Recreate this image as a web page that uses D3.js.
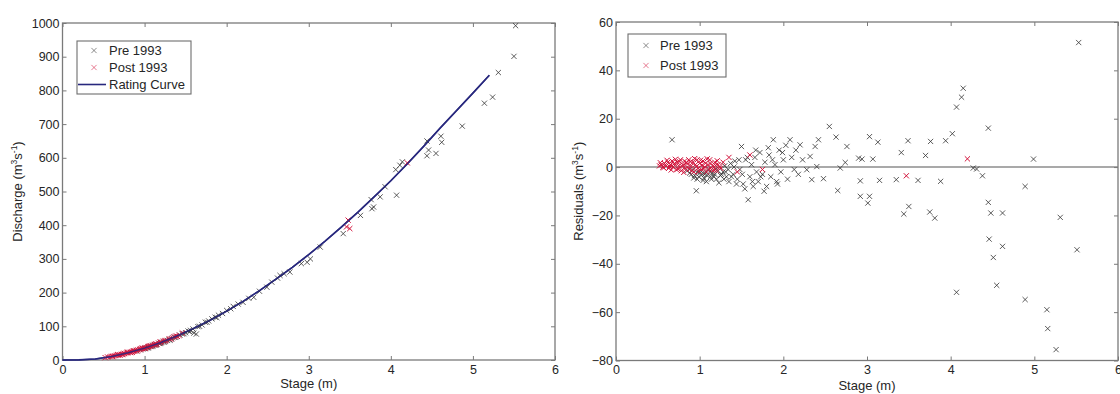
<!DOCTYPE html>
<html><head><meta charset="utf-8">
<script src="https://cdn.jsdelivr.net/npm/d3@7"></script>
<style>
html,body{margin:0;padding:0;background:#fff;}
svg{display:block;font-family:"Liberation Sans",Arial,sans-serif;}
</style></head>
<body><svg id="c" width="1120" height="394"></svg>
<script>
// ---------------- DATA ----------------
const xTicks = [0,1,2,3,4,5,6];
const qTicks = [0,100,200,300,400,500,600,700,800,900,1000];
const rTicks = [-80,-60,-40,-20,0,20,40,60];

// Rating curve (stage m, discharge m3/s)
const curveStage = [0,0.2,0.4,0.6,0.8,1.0,1.2,1.4,1.6,1.8,2.0,2.2,2.4,2.6,2.8,3.0,3.2,3.4,3.6,3.8,4.0,4.2,4.4,4.6,4.8,5.0,5.2];
const curveQ     = [0,0.5,3,10.5,21.5,35,52,72,94,118,145,174,206,240,275,313,353,395,439,485,532,582,634,688,740,792,845];

// Left panel: observed discharge
const preStage = [0.90,0.95,0.98,1.00,1.02,1.05,1.07,1.10,1.12,1.15,1.18,1.20,1.22,1.25,1.28,1.30,1.33,1.36,1.40,1.43,1.46,1.50,1.53,1.56,1.59,1.63,1.60,1.65,1.70,1.74,1.78,1.82,1.86,1.90,1.95,2.00,2.05,2.08,2.14,2.20,2.27,2.33,2.40,2.49,2.55,2.62,2.65,2.70,2.77,2.91,2.98,3.02,3.14,3.42,3.63,3.77,3.79,3.76,3.87,3.93,4.07,4.06,4.11,4.14,4.44,4.46,4.44,4.55,4.61,4.62,4.87,5.14,5.24,5.31,5.50,5.52,1.04,1.09,1.14,1.19,1.24,1.31,1.38,1.48,1.55,1.67,1.76,1.88];
const preQ     = [27,30,33,34,36,38,40,42,44,46,49,51,53,55,58,60,63,67,70,74,77,81,86,88,92,77,80,99,104,112,116,122,127,133,138,147,152,159,166,171,183,186,204,216,231,243,251,256,261,286,290,300,335,375,429,449,454,476,484,514,489,565,578,588,606,623,650,613,664,646,694,762,780,853,901,992,36,40,45,49,53,59,67,78,84,100,112,126];
const postStage = [0.52,0.55,0.58,0.60,0.62,0.64,0.66,0.68,0.70,0.72,0.74,0.76,0.78,0.80,0.82,0.84,0.86,0.88,0.90,0.92,0.94,0.96,0.98,1.00,1.02,1.04,1.06,1.08,1.10,1.12,1.14,1.17,1.20,1.23,1.26,1.30,1.34,1.38,1.42,1.46,0.70,0.75,0.85,0.95,1.05,1.15,3.46,3.48,3.50,4.20,0.61,0.67,0.73,0.79,0.83,0.87,0.91,0.97,1.01,1.07,1.13,1.19,1.25,1.32,1.36,1.40];
const postQ     = [7,9,10,11,12,13,14,15,16,17,18,19,21,22,23,24,26,27,29,30,31,33,35,36,37,39,41,42,44,46,48,50,53,56,58,63,66,71,73,80,14,20,23,33,40,46,395,415,390,585,10,16,16,23,22,27,27,35,34,42,45,53,57,62,69,70];

// Right panel: residuals
const preResStage = [0.67,0.85,0.88,0.90,0.92,0.94,0.96,0.97,0.99,1.01,1.03,1.05,1.07,1.09,1.11,1.13,1.15,1.18,1.20,1.22,1.25,1.28,1.30,1.32,1.35,1.37,1.40,1.42,1.45,1.48,1.50,1.52,1.55,1.58,1.60,1.62,1.64,1.66,1.68,1.70,1.72,1.75,1.78,1.80,1.83,1.85,1.88,1.90,1.92,1.95,1.97,2.00,2.03,2.05,2.08,2.10,2.13,2.15,2.18,2.20,2.23,2.28,2.32,2.34,2.38,2.40,2.42,2.48,2.55,2.63,2.65,2.68,2.74,2.76,2.90,2.92,2.92,2.94,3.01,3.03,3.03,3.07,3.13,3.15,3.35,3.41,3.44,3.49,3.50,3.61,3.70,3.75,3.76,3.81,3.88,3.94,4.02,4.07,4.07,4.13,4.15,4.27,4.31,4.38,4.45,4.45,4.46,4.48,4.51,4.55,4.62,4.62,4.89,4.89,4.99,5.15,5.16,5.26,5.31,5.51,5.53,
  0.93,0.97,1.00,1.04,1.06,1.08,1.12,1.14,1.17,1.19,1.23,1.26,1.29,1.31,1.34,1.38,1.41,1.44,1.47,1.51,1.54,1.57,1.63,1.67,1.73,1.77,1.82,1.87,1.93,1.99];
const preRes      = [11.3,-1.5,-2.5,-3,-1,-3.5,-9.8,-2,-4,-1.5,-3,-4.5,-2,-3.5,-1,-4,-2.5,-3,-5,-1.5,-3.5,-2,0.5,-4,-6,1.5,-3,2.5,-5,-1,8.5,-7,3,-13.5,-4,1,-8,4,-2,-6,6,-3,2,-8,5,-4,11.3,1,-6,7,-2,3,9,-5,11.3,4,-1,7,-3,9.2,3,-1.1,4.4,-5.2,8.5,0.2,11.3,-4.8,16.8,12.4,-9.7,-0.4,1.9,8.5,3.7,-5.7,-12.1,3.3,-14.9,12.6,-12.1,3.3,10.3,-5.5,-5.2,6.0,-19.4,10.9,-16.3,-5.5,4.8,-18.6,10.6,-21.1,-5.9,10.9,13.8,24.8,-51.8,28.9,32.6,-0.4,-0.8,-3.6,16.1,-14.6,-29.8,-19.0,-37.4,-48.9,-19.0,-32.8,-8.0,-54.8,3.3,-59.0,-66.8,-75.5,-20.8,-34.2,51.5,
  -4.5,-5,-2.5,-5.5,-3,-6,-2,-5,-4,-1,-6.5,-3,-5,-2,-1,-4,0,-7,3,-3,-9,4,-6,7,-4,-10,8,3,-7,6];
const postResStage = [0.52,0.54,0.56,0.58,0.60,0.62,0.63,0.65,0.67,0.68,0.70,0.72,0.73,0.75,0.77,0.78,0.80,0.82,0.83,0.85,0.87,0.88,0.90,0.92,0.93,0.95,0.97,0.98,1.00,1.02,1.04,1.06,1.08,1.10,1.12,1.14,1.16,1.18,1.20,1.22,1.25,1.28,1.35,1.45,1.60,1.75,3.47,4.20,
  0.53,0.57,0.61,0.64,0.66,0.69,0.71,0.74,0.76,0.79,0.81,0.84,0.86,0.89,0.91,0.94,0.96,0.99,1.01,1.03,1.05,1.07,1.09,1.11,1.13,1.17,1.19,1.21,1.24];
const postRes      = [0.5,1,0,1.5,0.5,2,-0.5,1,2.5,0,1.5,-1,2,0.5,3,-1.5,1,2.5,-0.5,1.5,3,-1,0.5,2,-2,1,3,-0.5,1.5,-1,2.5,0,-2,1,3,-1,0.5,2,-1.5,1,-0.5,2,4,-2,5,-1,-3.6,3.4,
  1.8,-0.3,2.8,0.2,-1.2,1.2,3.2,-0.8,2.2,0.3,-2.2,1.8,-0.2,2.2,-1.5,3.5,0.2,-1.8,2.8,0.8,-0.5,1.6,3.4,-0.9,1.3,-1.2,0.7,2.6,0.1];

const legendLeft = ["Pre 1993","Post 1993","Rating Curve"];
const legendRight = ["Pre 1993","Post 1993"];

// ---------------- STYLE ----------------
const AX = "#7a7a7a", TXT = "#262626";
const PRE = "#333333", POST = "#d3143c", CURVE = "#28287e";
const svg = d3.select("#c");
const xmark = "M-2.6,-2.6L2.6,2.6M-2.6,2.6L2.6,-2.6";

function sup(t, parts){
  parts.forEach(p=>{
    t.append("tspan").attr("dy", p.dy||0).attr("font-size", p.fs||13).text(p.t);
  });
}

function panel(o){
  const g = svg.append("g");
  const x = d3.scaleLinear().domain([0,6]).range(o.xr);
  const y = d3.scaleLinear().domain(o.yd).range(o.yr);
  const [x0,x1] = o.xr, [y0,y1] = o.yr;
  const fmt = d3.format("d");

  if (o.zero){
    g.append("line").attr("x1",x(0)).attr("x2",x(6)).attr("y1",y(0)).attr("y2",y(0))
      .attr("stroke","#8c8c8c").attr("stroke-width",1.6);
  }
  // axes
  const ax = [
    [d3.axisBottom(x).tickValues(xTicks).tickFormat(fmt), `translate(0,${y0})`, 5],
    [d3.axisTop(x).tickValues(xTicks).tickFormat(""), `translate(0,${y1})`, 5],
    [d3.axisLeft(y).tickValues(o.yt).tickFormat(fmt), `translate(${x0},0)`, 3],
    [d3.axisRight(y).tickValues(o.yt).tickFormat(""), `translate(${x1},0)`, 3]
  ];
  ax.forEach(([a,tr,pad])=>{
    const s = g.append("g").attr("transform",tr)
      .call(a.tickSizeInner(-4).tickSizeOuter(0).tickPadding(pad));
    s.select(".domain").remove();
    s.selectAll(".tick line").attr("stroke",AX).attr("stroke-width",1);
    s.selectAll(".tick text").attr("fill",TXT).attr("font-size",12.5)
      .attr("font-family","Liberation Sans, Arial, sans-serif");
  });
  g.append("rect").attr("x",x0).attr("y",y1).attr("width",x1-x0).attr("height",y0-y1)
    .attr("fill","none").attr("stroke",AX).attr("stroke-width",1.3);

  // data
  (o.lines||[]).forEach(L=>{
    g.append("path").datum(d3.range(L.xs.length))
      .attr("d", d3.line().x(i=>x(L.xs[i])).y(i=>y(L.ys[i])))
      .attr("fill","none").attr("stroke",L.c).attr("stroke-width",1.6);
  });
  o.sets.forEach(S=>{
    g.append("g").selectAll("path").data(d3.range(S.xs.length)).join("path")
      .attr("d",xmark).attr("transform",i=>`translate(${x(S.xs[i])},${y(S.ys[i])})`)
      .attr("fill","none").attr("stroke",S.c).attr("stroke-width",S.w||0.8);
  });
  (o.linesTop||[]).forEach(L=>{
    g.append("path").datum(d3.range(L.xs.length))
      .attr("d", d3.line().x(i=>x(L.xs[i])).y(i=>y(L.ys[i])))
      .attr("fill","none").attr("stroke",L.c).attr("stroke-width",1.4).attr("opacity",0.85);
  });

  // labels
  g.append("text").attr("x",(x0+x1)/2).attr("y",o.xlY).attr("text-anchor","middle")
    .attr("font-size",13).attr("fill",TXT).text("Stage (m)");
  const yl = g.append("text").attr("transform",`translate(${o.ylX},${(y0+y1)/2}) rotate(-90)`)
    .attr("text-anchor","middle").attr("font-size",13).attr("fill",TXT);
  sup(yl,[{t:o.ylab+" (m"},{t:"3",fs:8.5,dy:-5},{t:"s",dy:5},{t:"-1",fs:8.5,dy:-5},{t:")",dy:5}]);

  // legend
  const L = o.legend;
  const lg = g.append("g");
  lg.append("rect").attr("x",L.x).attr("y",L.y).attr("width",L.w).attr("height",L.h)
    .attr("fill","#fff").attr("stroke","#6e6e6e").attr("stroke-width",1.1);
  L.items.forEach((it,i)=>{
    const cy = L.y + L.first + i*L.step;
    if (it.type==="x"){
      lg.append("path").attr("d",xmark).attr("transform",`translate(${L.mx},${cy})`)
        .attr("fill","none").attr("stroke",it.c).attr("stroke-width",0.8).attr("opacity",0.7);
    } else {
      lg.append("line").attr("x1",L.x+1).attr("x2",L.tx-3).attr("y1",cy).attr("y2",cy)
        .attr("stroke",it.c).attr("stroke-width",1.6);
    }
    lg.append("text").attr("x",L.tx).attr("y",cy+4.5).attr("font-size",13).attr("fill",TXT).text(it.t);
  });
}

panel({
  xr:[62.5,555], yr:[360,23], yd:[0,1000], yt:qTicks,
  xlY:388, ylX:22, ylab:"Discharge",
  lines:[{xs:curveStage, ys:curveQ, c:CURVE}],
  sets:[{xs:preStage,ys:preQ,c:PRE},{xs:postStage,ys:postQ,c:POST,w:1}],
  linesTop:[{xs:curveStage, ys:curveQ, c:CURVE}],
  legend:{x:77,y:41,w:114,h:53,first:9.5,step:17,mx:94,tx:109,
    items:[{t:legendLeft[0],type:"x",c:PRE},{t:legendLeft[1],type:"x",c:POST},{t:legendLeft[2],type:"l",c:CURVE}]}
});

panel({
  xr:[616,1118], yr:[360.5,22], yd:[-80,60], yt:rTicks,
  xlY:390, ylX:583, ylab:"Residuals", zero:true,
  sets:[{xs:preResStage,ys:preRes,c:PRE},{xs:postResStage,ys:postRes,c:POST,w:1}],
  legend:{x:628,y:34,w:98,h:43,first:11.5,step:20,mx:646,tx:660,
    items:[{t:legendRight[0],type:"x",c:PRE},{t:legendRight[1],type:"x",c:POST}]}
});
</script></body></html>
